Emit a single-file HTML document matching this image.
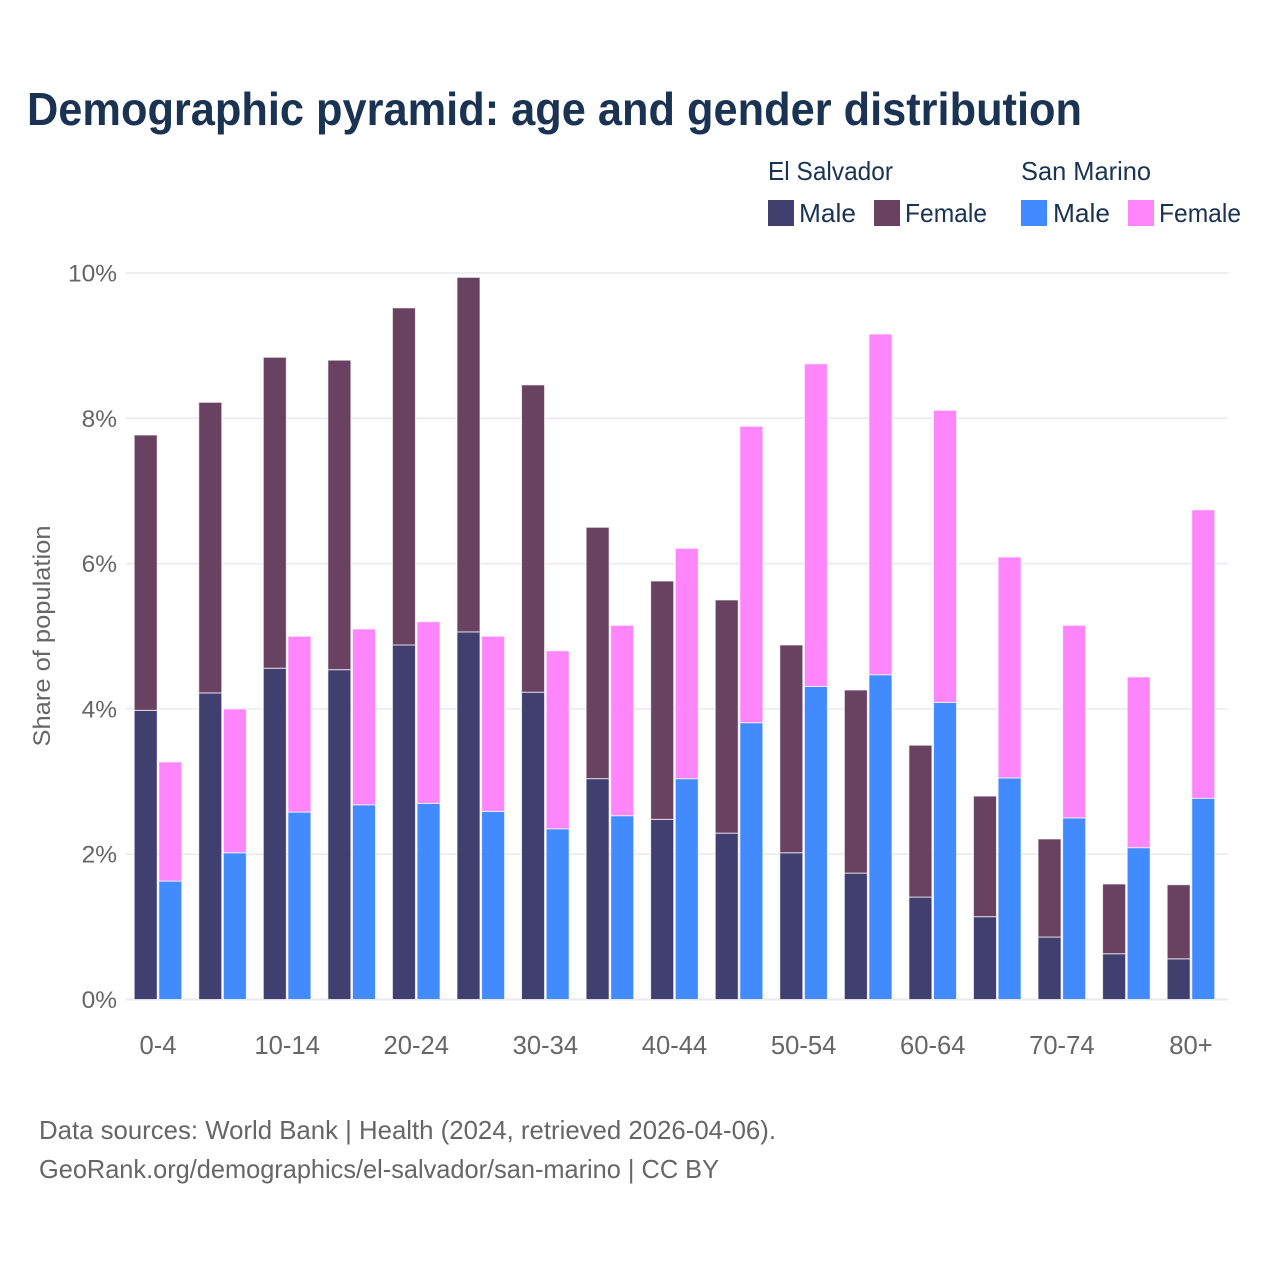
<!DOCTYPE html>
<html lang="en">
<head>
<meta charset="utf-8">
<title>Demographic pyramid: age and gender distribution</title>
<style>
html,body{margin:0;padding:0;background:#fff;}
svg{display:block;font-family:"Liberation Sans",sans-serif;}
</style>
</head>
<body>
<svg id="chart" xmlns="http://www.w3.org/2000/svg" width="1280" height="1280" viewBox="0 0 1280 1280">
  <rect x="0" y="0" width="1280" height="1280" fill="#ffffff"/>
  <text x="27" y="125" font-size="46" font-weight="700" fill="#1a3353" textLength="1055" lengthAdjust="spacingAndGlyphs">Demographic pyramid: age and gender distribution</text>

  <g font-size="26" fill="#1a3353">
    <text x="768" y="180" textLength="125" lengthAdjust="spacingAndGlyphs">El Salvador</text>
    <text x="1021" y="180" textLength="130" lengthAdjust="spacingAndGlyphs">San Marino</text>
    <rect x="768" y="200" width="26" height="26" fill="#413e70"/>
    <text x="799" y="222" textLength="57" lengthAdjust="spacingAndGlyphs">Male</text>
    <rect x="874" y="200" width="26" height="26" fill="#694261"/>
    <text x="905" y="222" textLength="82" lengthAdjust="spacingAndGlyphs">Female</text>
    <rect x="1021" y="200" width="26" height="26" fill="#428bff"/>
    <text x="1053" y="222" textLength="57" lengthAdjust="spacingAndGlyphs">Male</text>
    <rect x="1128" y="200" width="26" height="26" fill="#ff85fa"/>
    <text x="1159" y="222" textLength="82" lengthAdjust="spacingAndGlyphs">Female</text>
  </g>

  <g id="grid"></g>
  <g id="yticks" font-size="24.5" fill="#666666" text-anchor="end"></g>
  <g id="bars"></g>
  <g id="xticks" font-size="25.6" fill="#666666" text-anchor="middle"></g>

  <text transform="translate(50,636) rotate(-90)" font-size="24" fill="#666666" text-anchor="middle" textLength="221" lengthAdjust="spacingAndGlyphs">Share of population</text>

  <text x="39" y="1139" font-size="26" fill="#666666" textLength="737" lengthAdjust="spacingAndGlyphs">Data sources: World Bank | Health (2024, retrieved 2026-04-06).</text>
  <text x="39" y="1178" font-size="26" fill="#666666" textLength="680" lengthAdjust="spacingAndGlyphs">GeoRank.org/demographics/el-salvador/san-marino | CC BY</text>
</svg>
<script>
const categories = ["0-4","5-9","10-14","15-19","20-24","25-29","30-34","35-39","40-44","45-49","50-54","55-59","60-64","65-69","70-74","75-79","80+"];
const elSalvadorMale = [3.98,4.22,4.56,4.54,4.88,5.06,4.23,3.04,2.48,2.29,2.02,1.74,1.41,1.14,0.86,0.63,0.56];
const elSalvadorFemale = [3.79,4.00,4.28,4.26,4.64,4.88,4.23,3.46,3.28,3.21,2.86,2.52,2.09,1.66,1.35,0.96,1.02];
const sanMarinoMale = [1.63,2.02,2.58,2.68,2.70,2.59,2.35,2.53,3.04,3.81,4.31,4.47,4.09,3.05,2.50,2.09,2.77];
const sanMarinoFemale = [1.64,1.98,2.42,2.42,2.50,2.41,2.45,2.62,3.17,4.08,4.44,4.69,4.02,3.04,2.65,2.35,3.97];
const yTicks = [0,2,4,6,8,10];

const SVG_NS = "http://www.w3.org/2000/svg";
const yScale = function (v) { return 999.5 - v * 72.65; };
const bandCenter = function (i) { return 158 + i * 64.56; };
const barWidth = 23;
const barGap = 1.6;

function make(tag, attrs, parent) {
  const el = document.createElementNS(SVG_NS, tag);
  Object.keys(attrs).forEach(function (k) { el.setAttribute(k, attrs[k]); });
  parent.appendChild(el);
  return el;
}

const gridGroup = document.getElementById("grid");
const yTickGroup = document.getElementById("yticks");
yTicks.forEach(function (t) {
  const line = make("line", { x1: 126, x2: 1228, y1: yScale(t), y2: yScale(t), stroke: "#e9e9ef", "stroke-width": t === 0 ? 2 : 1.5 }, gridGroup);
  
  
  const label = make("text", { x: 117, y: yScale(t) + 8.5 }, yTickGroup);
  label.textContent = t + "%";
  
  
});

const barsGroup = document.getElementById("bars");
function drawBar(x, lower, value, fill) {
  const top = yScale(lower + value);
  const bottom = yScale(lower);
  const bar = make("rect", { x: x, y: top, width: barWidth, height: bottom - top, fill: fill, stroke: "#ffffff", "stroke-opacity": 0.7, "stroke-width": 1 }, barsGroup);
  
  
}
categories.forEach(function (c, i) {
  const cx = bandCenter(i);
  const leftX = cx - barWidth - barGap / 2;
  const rightX = cx + barGap / 2;
  drawBar(leftX, 0, elSalvadorMale[i], "#413e70");
  drawBar(leftX, elSalvadorMale[i], elSalvadorFemale[i], "#694261");
  drawBar(rightX, 0, sanMarinoMale[i], "#428bff");
  drawBar(rightX, sanMarinoMale[i], sanMarinoFemale[i], "#ff85fa");
});

const xTickGroup = document.getElementById("xticks");
categories.forEach(function (c, i) {
  if (i % 2 !== 0) { return; }
  const label = make("text", { x: bandCenter(i), y: 1054 }, xTickGroup);
  label.textContent = c;
  
  
});
</script>
</body>
</html>
